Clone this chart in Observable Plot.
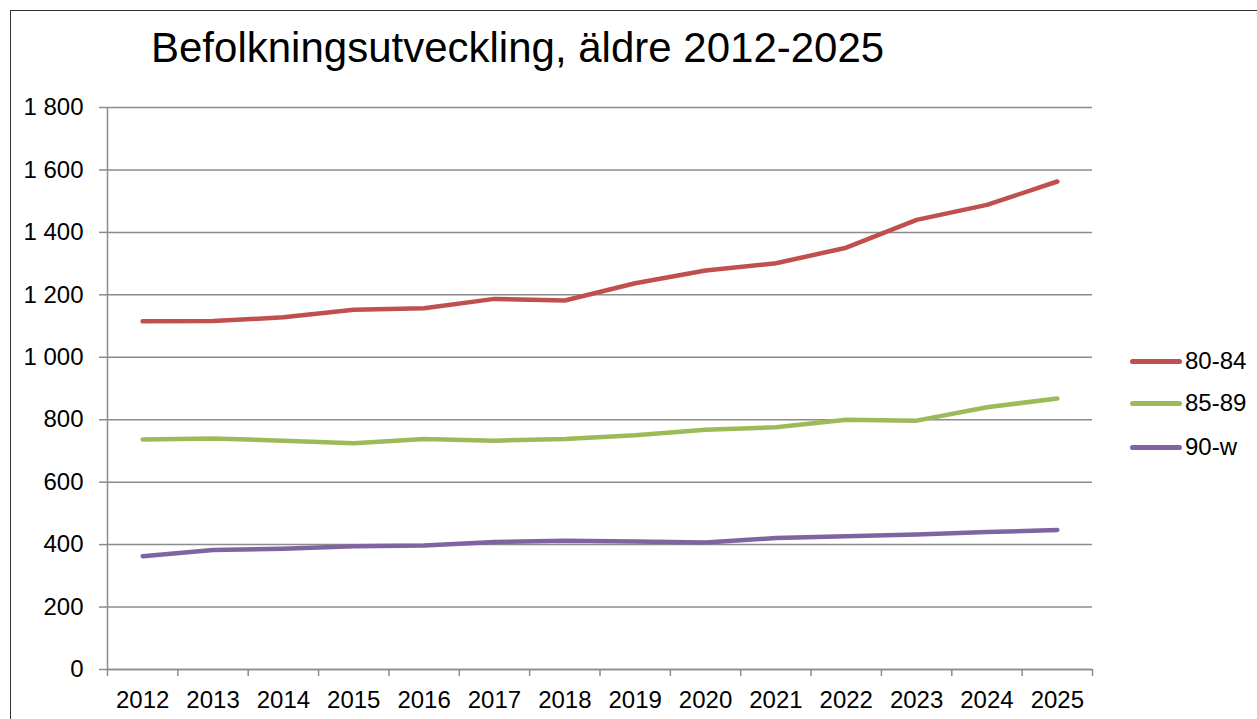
<!DOCTYPE html>
<html>
<head>
<meta charset="utf-8">
<script src="https://cdn.jsdelivr.net/npm/d3@7"></script>
<script src="https://cdn.jsdelivr.net/npm/@observablehq/plot@0.6"></script>
<style>
  html, body { margin: 0; padding: 0; background: #fff; overflow: hidden; }
  #wrap { position: relative; width: 1257px; height: 719px; font-family: Arial, "Liberation Sans", sans-serif; }
  #title { height: 80px; box-sizing: border-box; padding-left: 151px; padding-top: 27px; font-size: 42px; line-height: 42px; color: #000; white-space: nowrap; }
  #border { position: absolute; left: 10px; top: 10px; width: 1300px; height: 800px; border-left: 1.5px solid #333; border-top: 1.5px solid #333; pointer-events: none; z-index: 5; }
  #legend { position: absolute; left: 1130px; top: 0; z-index: 4; font-size: 24px; color: #000; }
  .item { position: absolute; left: 0; display: flex; align-items: center; white-space: nowrap; height: 30px; margin-top: -15px; }
  .sw { width: 52px; height: 5px; border-radius: 3px; margin-right: 3px; }
  #chart svg { display: block; }
</style>
</head>
<body>
<div id="wrap">
  <div id="title">Befolkningsutveckling, äldre 2012-2025</div>
  <div id="chart"></div>
  <div id="legend"></div>
  <div id="border"></div>
</div>
<script>
const years = [2012, 2013, 2014, 2015, 2016, 2017, 2018, 2019, 2020, 2021, 2022, 2023, 2024, 2025];
const seriesNames = ["80-84", "85-89", "90-w"];
const seriesColors = ["#C0504D", "#9BBB59", "#8064A2"];
const age80_84 = [1115, 1116, 1128, 1152, 1157, 1187, 1182, 1237, 1278, 1301, 1351, 1440, 1488, 1563];
const age85_89 = [737, 740, 733, 725, 738, 733, 738, 750, 768, 776, 800, 797, 840, 868];
const age90_w = [363, 383, 387, 395, 397, 408, 412, 410, 407, 421, 427, 432, 440, 447];
const yTicks = [0, 200, 400, 600, 800, 1000, 1200, 1400, 1600, 1800];

const seriesValues = [age80_84, age85_89, age90_w];
const data = [];
seriesNames.forEach((name, i) => {
  years.forEach((yr, j) => data.push({ year: yr, value: seriesValues[i][j], series: name }));
});
const boundaries = [years[0] - 0.5, ...years.map(y => y + 0.5)];
const fmt = d => d3.format(",")(d).replace(/,/g, " ");

const chart = Plot.plot({
  width: 1257,
  height: 639,
  marginTop: 27,
  marginBottom: 50,
  marginLeft: 107,
  marginRight: 165,
  style: { fontFamily: 'Arial, "Liberation Sans", sans-serif', fontSize: "24px", color: "#000", background: "transparent" },
  x: { type: "linear", domain: [years[0] - 0.5, years[years.length - 1] + 0.5] },
  y: { domain: [0, yTicks[yTicks.length - 1]] },
  color: { domain: seriesNames, range: seriesColors },
  marks: [
    Plot.gridY(yTicks, { stroke: "#8c8c8c", strokeOpacity: 1, strokeWidth: 1.5 }),
    Plot.ruleX([years[0] - 0.5], { stroke: "#8c8c8c", strokeWidth: 1.5 }),
    Plot.ruleY([0], { stroke: "#8c8c8c", strokeWidth: 1.5 }),
    Plot.axisY(yTicks, { tickSize: 8, tickPadding: 16, tickFormat: fmt, stroke: "#8c8c8c", strokeWidth: 1.5, fill: "#000", label: null }),
    Plot.axisX(boundaries, { tickSize: 7, tickFormat: () => "", stroke: "#8c8c8c", strokeWidth: 1.5, label: null }),
    Plot.axisX(years, { tickSize: 0, tickPadding: 21, tickFormat: d => String(d), fill: "#000", label: null }),
    Plot.line(data, { x: "year", y: "value", z: "series", stroke: "series", strokeWidth: 4.5, strokeLinecap: "round", strokeLinejoin: "round" })
  ]
});
document.getElementById("chart").appendChild(chart);

const legendTops = [361, 403, 447];
const legend = document.getElementById("legend");
seriesNames.forEach((name, i) => {
  const it = document.createElement("div");
  it.className = "item";
  it.style.top = legendTops[i] + "px";
  const sw = document.createElement("div");
  sw.className = "sw";
  sw.style.background = seriesColors[i];
  const tx = document.createElement("span");
  tx.textContent = name;
  it.appendChild(sw);
  it.appendChild(tx);
  legend.appendChild(it);
});
</script>
</body>
</html>
